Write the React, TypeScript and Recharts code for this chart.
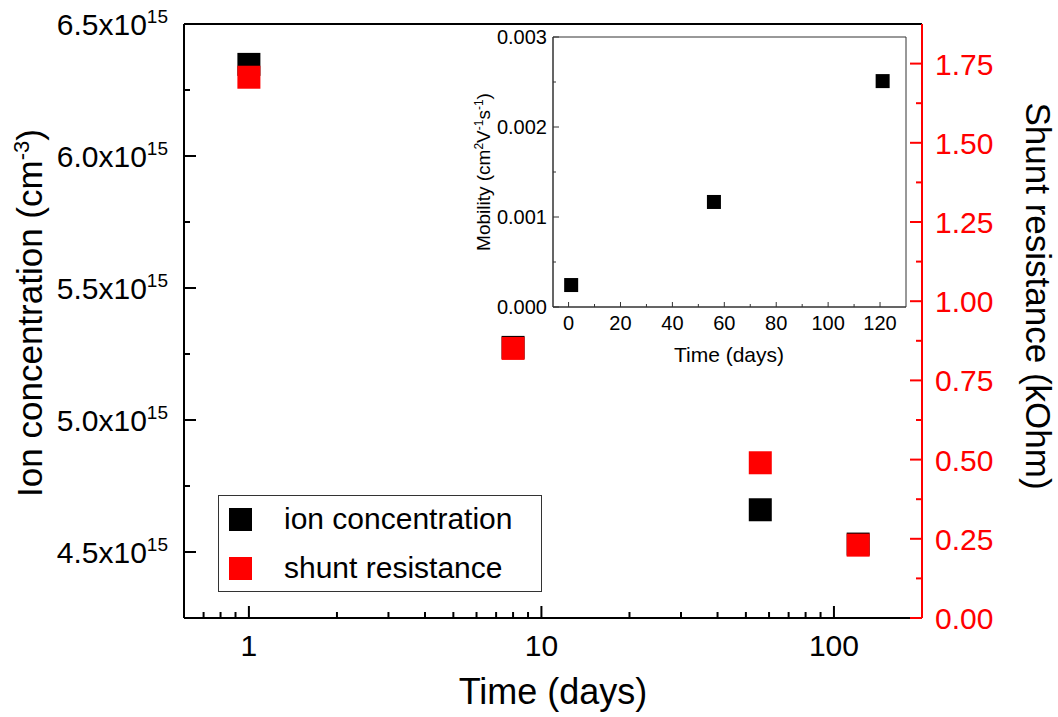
import {
  ScatterChart,
  Scatter,
  XAxis,
  YAxis,
  ReferenceLine,
  ReferenceArea,
} from "recharts";

const FONT = "'Liberation Sans', Arial, Helvetica, sans-serif";
const RED = "#ff0000";

// main chart data (time in days, log axis)
const DAYS_ION = [1, 8, 56, 121];
const ION_CONC = [6.347e15, 5.275e15, 4.66e15, 4.53e15];
const DAYS_SHUNT = [1, 8, 56, 121];
const SHUNT_KOHM = [1.707, 0.851, 0.49, 0.23];

// inset data
const DAYS_MOB = [1, 56, 121];
const MOBILITY = [0.000244, 0.001167, 0.00251];

// ticks
const TIME_MAJOR = [1, 10, 100];
const TIME_MINOR = [0.7, 0.8, 0.9, 2, 3, 4, 5, 6, 7, 8, 9, 20, 30, 40, 50, 60, 70, 80, 90];
const ION_MAJOR = [4.5e15, 5.0e15, 5.5e15, 6.0e15, 6.5e15];
const ION_MINOR = [4.75e15, 5.25e15, 5.75e15, 6.25e15];
const SHUNT_MAJOR = [0, 0.25, 0.5, 0.75, 1.0, 1.25, 1.5, 1.75];
const SHUNT_MINOR = [0.125, 0.375, 0.625, 0.875, 1.125, 1.375, 1.625];
const INSET_X_MAJOR = [0, 20, 40, 60, 80, 100, 120];
const INSET_X_MINOR = [10, 30, 50, 70, 90, 110];
const INSET_Y_MAJOR = [0, 0.001, 0.002, 0.003];
const INSET_Y_MINOR = [0.0005, 0.0015, 0.0025];

const ionData = DAYS_ION.map((d, i) => ({ x: d, y: ION_CONC[i] }));
const shuntData = DAYS_SHUNT.map((d, i) => ({ x: d, y: SHUNT_KOHM[i] }));
const mobData = DAYS_MOB.map((d, i) => ({ x: d, y: MOBILITY[i] }));

const sorted = (a: number[], b: number[]) => [...a, ...b].sort((p, q) => p - q);

const square = (color: string, size: number) => (p: any) => (
  <rect
    x={p.cx - size / 2}
    y={p.cy - size / 2}
    width={size}
    height={size}
    fill={color}
  />
);

const TimeTick = (p: any) => {
  const v = p.payload.value;
  const major = TIME_MAJOR.includes(v);
  return (
    <g>
      <line x1={p.x} x2={p.x} y1={p.y} y2={p.y - (major ? 12 : 6)} stroke="#000" strokeWidth={2} />
      {major && (
        <text x={p.x} y={p.y + 38} textAnchor="middle" fontSize={30} fontFamily={FONT} fill="#000">
          {v}
        </text>
      )}
    </g>
  );
};

const IonTick = (p: any) => {
  const v = p.payload.value;
  const major = ION_MAJOR.includes(v);
  return (
    <g>
      <line x1={p.x} x2={p.x + (major ? 12 : 6)} y1={p.y} y2={p.y} stroke="#000" strokeWidth={2} />
      {major && (
        <text x={p.x - 16} y={p.y + 11} textAnchor="end" fontSize={30} fontFamily={FONT} fill="#000">
          {(v / 1e15).toFixed(1)}x10
          <tspan dy={-12} fontSize={19}>15</tspan>
        </text>
      )}
    </g>
  );
};

const ShuntTick = (p: any) => {
  const v = p.payload.value;
  const major = SHUNT_MAJOR.includes(v);
  return (
    <g>
      <line x1={p.x} x2={p.x - (major ? 12 : 6)} y1={p.y} y2={p.y} stroke={RED} strokeWidth={2} />
      {major && (
        <text x={p.x + 13} y={p.y + 11} textAnchor="start" fontSize={30} fontFamily={FONT} fill={RED}>
          {v.toFixed(2)}
        </text>
      )}
    </g>
  );
};

const InsetXTick = (p: any) => {
  const v = p.payload.value;
  const major = INSET_X_MAJOR.includes(v);
  return (
    <g>
      <line x1={p.x} x2={p.x} y1={p.y} y2={p.y - (major ? 5 : 3)} stroke="#333" strokeWidth={1} />
      {major && (
        <text x={p.x} y={p.y + 23} textAnchor="middle" fontSize={20} fontFamily={FONT} fill="#000">
          {v}
        </text>
      )}
    </g>
  );
};

const InsetYTick = (p: any) => {
  const v = p.payload.value;
  const major = INSET_Y_MAJOR.includes(v);
  return (
    <g>
      <line x1={p.x} x2={p.x + (major ? 6 : 3)} y1={p.y} y2={p.y} stroke="#333" strokeWidth={1} />
      {major && (
        <text x={p.x - 6} y={p.y + 7} textAnchor="end" fontSize={20} fontFamily={FONT} fill="#000">
          {v.toFixed(3)}
        </text>
      )}
    </g>
  );
};

const legendItems = [
  { name: "ion concentration", color: "#000" },
  { name: "shunt resistance", color: RED },
];

export default function App() {
  return (
    <div style={{ position: "absolute", left: 0, top: 0, width: 1058, height: 717, background: "#fff" }}>
      <ScatterChart width={1058} height={717} margin={{ top: 24, right: 0, bottom: 0, left: 0 }}>
        <XAxis
          dataKey="x"
          type="number"
          scale="log"
          domain={[0.6, 200]}
          allowDataOverflow
          ticks={sorted(TIME_MAJOR, TIME_MINOR)}
          interval={0}
          height={99}
          tickSize={0}
          tickMargin={0}
          tickLine={false}
          axisLine={{ stroke: "#000", strokeWidth: 2 }}
          tick={TimeTick}
          label={(props: any) => (
            <text x={553} y={704} textAnchor="middle" fontSize={36} fontFamily={FONT} fill="#000">
              Time (days)
            </text>
          )}
        />
        <YAxis
          yAxisId="left"
          dataKey="y"
          type="number"
          domain={[4.25e15, 6.5e15]}
          allowDataOverflow
          ticks={sorted(ION_MAJOR, ION_MINOR)}
          interval={0}
          width={184}
          tickSize={0}
          tickMargin={0}
          tickLine={false}
          axisLine={{ stroke: "#000", strokeWidth: 2 }}
          tick={IonTick}
          label={(props: any) => (
            <text
              x={42}
              y={313}
              transform="rotate(-90 42 313)"
              textAnchor="middle"
              fontSize={35}
              fontFamily={FONT}
              fill="#000"
            >
              Ion concentration (cm
              <tspan dy={-13} fontSize={22}>-3</tspan>
              <tspan dy={13}>)</tspan>
            </text>
          )}
        />
        <YAxis
          yAxisId="right"
          orientation="right"
          dataKey="y"
          type="number"
          domain={[0, 1.875]}
          allowDataOverflow
          ticks={sorted(SHUNT_MAJOR, SHUNT_MINOR)}
          interval={0}
          width={136}
          tickSize={0}
          tickMargin={0}
          tickLine={false}
          axisLine={{ stroke: RED, strokeWidth: 2 }}
          tick={ShuntTick}
          label={(props: any) => (
            <text
              x={1026}
              y={296}
              transform="rotate(90 1026 296)"
              textAnchor="middle"
              fontSize={35}
              fontFamily={FONT}
              fill="#000"
            >
              Shunt resistance (kOhm)
            </text>
          )}
        />
        <ReferenceLine yAxisId="left" y={6.5e15} stroke="#000" strokeWidth={2} />
        <Scatter
          name="ion concentration"
          yAxisId="left"
          data={ionData}
          fill="#000"
          shape={square("#000", 23)}
          isAnimationActive={false}
        />
        <Scatter
          name="shunt resistance"
          yAxisId="right"
          data={shuntData}
          fill={RED}
          shape={square(RED, 23)}
          isAnimationActive={false}
        />
      </ScatterChart>

      <div
        style={{
          position: "absolute",
          left: 218,
          top: 495,
          width: 322,
          height: 95,
          border: "1px solid #333",
          background: "#fff",
          fontFamily: FONT,
          fontSize: 30,
        }}
      >
        {legendItems.map((it, i) => (
          <div
            key={it.name}
            style={{ position: "absolute", left: 10, top: 11 + i * 49, height: 24, display: "flex", alignItems: "center" }}
          >
            <div style={{ width: 23, height: 23, background: it.color }} />
            <span style={{ marginLeft: 32, lineHeight: "24px" }}>{it.name}</span>
          </div>
        ))}
      </div>

      <div style={{ position: "absolute", left: 440, top: 20 }}>
        <ScatterChart width={480} height={370} margin={{ top: 17, right: 14, bottom: 0, left: 0 }}>
          <XAxis
            dataKey="x"
            type="number"
            domain={[-6, 130]}
            allowDataOverflow
            ticks={sorted(INSET_X_MAJOR, INSET_X_MINOR)}
            interval={0}
            height={83}
            tickSize={0}
            tickMargin={0}
            tickLine={false}
            axisLine={{ stroke: "#333", strokeWidth: 1 }}
            tick={InsetXTick}
            label={(props: any) => (
              <text x={289} y={342} textAnchor="middle" fontSize={21} fontFamily={FONT} fill="#000">
                Time (days)
              </text>
            )}
          />
          <YAxis
            dataKey="y"
            type="number"
            domain={[0, 0.003]}
            allowDataOverflow
            ticks={sorted(INSET_Y_MAJOR, INSET_Y_MINOR)}
            interval={0}
            width={113}
            tickSize={0}
            tickMargin={0}
            tickLine={false}
            axisLine={{ stroke: "#333", strokeWidth: 1 }}
            tick={InsetYTick}
            label={(props: any) => (
              <text
                x={50}
                y={152}
                transform="rotate(-90 50 152)"
                textAnchor="middle"
                fontSize={19}
                fontFamily={FONT}
                fill="#000"
              >
                Mobility (cm
                <tspan dy={-7} fontSize={12}>2</tspan>
                <tspan dy={7}>V</tspan>
                <tspan dy={-7} fontSize={12}>-1</tspan>
                <tspan dy={7}>s</tspan>
                <tspan dy={-7} fontSize={12}>-1</tspan>
                <tspan dy={7}>)</tspan>
              </text>
            )}
          />
          <ReferenceArea x1={-6} x2={130} y1={0} y2={0.003} fill="none" fillOpacity={0} stroke="#333" strokeWidth={1} />
          <Scatter data={mobData} fill="#000" shape={square("#000", 14)} isAnimationActive={false} />
        </ScatterChart>
      </div>
    </div>
  );
}
